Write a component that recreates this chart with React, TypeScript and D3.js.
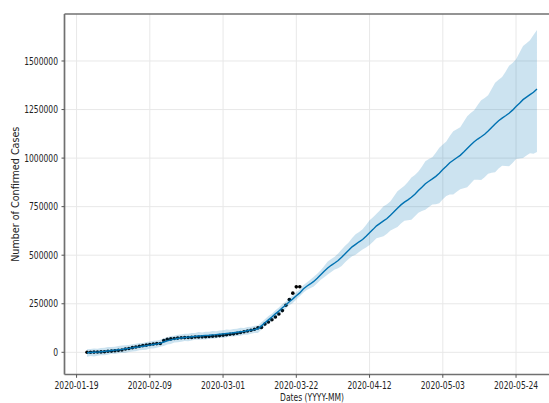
import React from 'react';
import * as d3 from 'd3';

const W = 549;
const H = 403;
const DAY = 86400000;
const firstDay = Date.UTC(2020, 0, 22);

// observed cumulative confirmed cases, one per day from 2020-01-22
const observed = [
  555, 654, 941, 1434, 2118, 2927, 5578, 6166, 8234, 9927,
  12038, 16787, 19881, 23892, 27635, 30817, 34391, 37120, 40150, 42762,
  44802, 45221, 60368, 66885, 69030, 71224, 73258, 75136, 75639, 76197,
  76819, 78572, 78958, 79561, 80406, 81388, 82746, 84112, 86011, 88369,
  90306, 92840, 95120, 97886, 101801, 105847, 109821, 113590, 118620, 125875,
  128352, 145205, 156101, 167454, 181574, 197102, 214821, 242570, 272208, 304507,
  336953, 337500,
];

// model output in thousands, one per day from 2020-01-22 to 2020-05-30
const yhatK = [
  -3, -1, 0, 1, 3, 5, 7, 9, 11, 13,
  15, 18, 20, 23, 26, 28, 31, 34, 37, 40,
  43, 47, 53, 59, 64, 68, 71, 74, 76, 78,
  80, 82, 84, 85, 87, 88, 90, 91, 93, 95,
  97, 99, 101, 103, 106, 108, 111, 114, 117, 121,
  136, 152, 167, 182, 198, 213, 229, 244, 260, 275,
  291, 306,
  326, 340, 352, 365, 381, 399, 417, 434, 448, 460,
  473, 489, 508, 525, 543, 556, 569, 581, 598, 616,
  633, 651, 664, 677, 689, 706, 724, 742, 759, 773,
  785, 798, 814, 833, 850, 868, 881, 893, 906, 922,
  941, 958, 976, 989, 1002, 1014, 1031, 1049, 1067, 1084,
  1098, 1110, 1123, 1139, 1158, 1175, 1192, 1206, 1218, 1231,
  1247, 1266, 1283, 1301, 1314, 1327, 1339, 1356,
];

const lowerK = [
  -23, -19, -21, -18, -15, -15, -12, -8, -9, -5,
  -4, -3, 2, 4, 6, 10, 12, 13, 19, 20,
  24, 29, 33, 40, 43, 50, 52, 54, 58, 57,
  61, 64, 64, 66, 66, 70, 70, 72, 75, 74,
  78, 81, 81, 84, 85, 90, 91, 95, 99, 100,
  117, 134, 147, 163, 177, 195, 209, 225, 242, 254,
  272, 288,
  307, 321, 330, 339, 355, 374, 387, 400, 414, 426,
  433, 444, 464, 481, 495, 502, 516, 529, 540, 553,
  569, 587, 593, 598, 610, 627, 636, 645, 663, 677,
  680, 683, 700, 719, 727, 734, 748, 761, 763, 768,
  788, 805, 812, 812, 827, 840, 845, 850, 869, 888,
  889, 887, 902, 920, 924, 927, 946, 961, 959, 958,
  975, 995, 998, 1001, 1014, 1025, 1022, 1031,
];

const upperK = [
  16, 17, 20, 18, 22, 23, 27, 27, 28, 32,
  35, 36, 37, 42, 44, 48, 48, 53, 55, 60,
  61, 64, 72, 77, 84, 85, 90, 92, 96, 95,
  99, 100, 104, 102, 106, 106, 110, 108, 112, 113,
  117, 116, 120, 121, 126, 125, 130, 132, 137, 138,
  155, 170, 187, 199, 217, 231, 249, 261, 279, 293,
  311, 324,
  345, 359, 373, 389, 405, 423, 445, 467, 480, 492,
  509, 530, 549, 565, 589, 608, 620, 633, 655, 680,
  695, 713, 731, 752, 762, 778, 803, 829, 844, 858,
  877, 900, 913, 931, 956, 984, 995, 1005, 1027, 1053,
  1070, 1086, 1114, 1138, 1149, 1159, 1187, 1216, 1232, 1247,
  1273, 1298, 1309, 1324, 1356, 1388, 1404, 1418, 1445, 1475,
  1490, 1509, 1543, 1577, 1591, 1607, 1634, 1660,
];

const xTickLabels = ['2020-01-19', '2020-02-09', '2020-03-01', '2020-03-22', '2020-04-12', '2020-05-03', '2020-05-24'];
const yTicks = [0, 250000, 500000, 750000, 1000000, 1250000, 1500000];

const font = '"DejaVu Sans", sans-serif';
const squeeze = 0.76; // picture was squashed sideways

const dayDate = (i: number) => new Date(firstDay + i * DAY);
const parseTick = (s: string) => {
  const [yy, mm, dd] = s.split('-').map(Number);
  return new Date(Date.UTC(yy, mm - 1, dd));
};

export default function App() {
  const left = 64.5, right = 559.5, top = 14, bottom = 374.5;

  const x = d3.scaleUtc()
    .domain([new Date(Date.UTC(2020, 0, 15, 13)), new Date(Date.UTC(2020, 5, 5, 11))])
    .range([left, right]);
  const y = d3.scaleLinear().domain([-114300, 1742000]).range([bottom, top]);

  const fc = yhatK.map((v, i) => ({ d: dayDate(i), yhat: v * 1000, lo: lowerK[i] * 1000, hi: upperK[i] * 1000 }));

  const band = d3.area<any>()
    .x(d => x(d.d))
    .y0(d => y(d.lo))
    .y1(d => y(d.hi));
  const trend = d3.line<any>()
    .x(d => x(d.d))
    .y(d => y(d.yhat));

  return (
    <svg width={W} height={H} style={{ position: 'absolute', left: 0, top: 0, background: '#fff' }}>
      {/* grid */}
      {yTicks.map(t => (
        <line key={'gy' + t} x1={left} x2={right} y1={y(t)} y2={y(t)} stroke="#e8e8e8" strokeWidth={1} />
      ))}
      {xTickLabels.map(t => (
        <line key={'gx' + t} x1={x(parseTick(t))} x2={x(parseTick(t))} y1={top} y2={bottom} stroke="#e8e8e8" strokeWidth={1} />
      ))}

      {/* observed points */}
      {observed.map((v, i) => (
        <circle key={'p' + i} cx={x(dayDate(i))} cy={y(v)} r={1.8} fill="#000" />
      ))}

      <path d={trend(fc) || ''} fill="none" stroke="#0072B2" strokeWidth={1.4} />
      <path d={band(fc) || ''} fill="#0072B2" fillOpacity={0.2} stroke="none" />

      {/* spines */}
      <line x1={left} x2={left} y1={top} y2={bottom} stroke="#707070" strokeWidth={1.7} />
      <line x1={left} x2={right} y1={top} y2={top} stroke="#707070" strokeWidth={1.7} />
      <line x1={left} x2={right} y1={bottom} y2={bottom} stroke="#707070" strokeWidth={1.7} />
      <line x1={right} x2={right} y1={top} y2={bottom} stroke="#707070" strokeWidth={1.7} />

      {/* y axis */}
      {yTicks.map(t => (
        <g key={'yt' + t}>
          <line x1={left - 3} x2={left} y1={y(t)} y2={y(t)} stroke="#555" strokeWidth={1} />
          <text transform={`translate(${left - 6.5},${y(t) + 3.6}) scale(${squeeze},1)`} textAnchor="end"
            fontFamily={font} fontSize={10} fill="#222">{t}</text>
        </g>
      ))}

      {/* x axis */}
      {xTickLabels.map(t => (
        <g key={'xt' + t}>
          <line x1={x(parseTick(t))} x2={x(parseTick(t))} y1={bottom} y2={bottom + 3.3} stroke="#555" strokeWidth={1} />
          <text transform={`translate(${x(parseTick(t))},${bottom + 14}) scale(${squeeze},1)`} textAnchor="middle"
            fontFamily={font} fontSize={10} fill="#222">{t}</text>
        </g>
      ))}

      <text transform={`translate(${(left + right) / 2},${bottom + 26.8}) scale(${squeeze},1)`} textAnchor="middle"
        fontFamily={font} fontSize={10} fill="#222">Dates (YYYY-MM)</text>
      <text transform={`translate(19,${(top + bottom) / 2}) rotate(-90)`} textAnchor="middle"
        fontFamily={font} fontSize={9.6} fill="#222">Number of Confirmed Cases</text>
    </svg>
  );
}
